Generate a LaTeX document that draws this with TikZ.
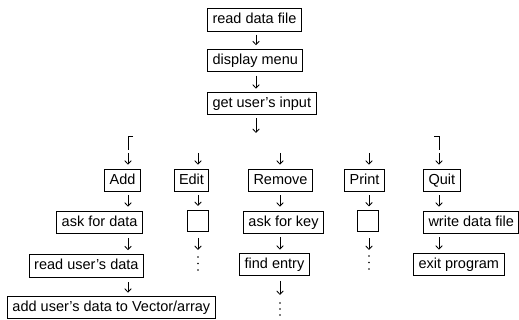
\documentclass[tikz,border=0pt]{standalone}
\usepackage{fontspec}
\setmainfont{Liberation Sans}
\usetikzlibrary{arrows.meta}
\begin{document}
\begin{tikzpicture}[x=1pt,y=-1pt,
  box/.style={draw, line width=1pt, inner xsep=5pt, inner ysep=4.5pt,
    text height=10.5pt, text depth=3pt, font=\fontsize{14.5}{17}\selectfont},
  emptybox/.style={draw, line width=1pt, minimum width=21pt, minimum height=21pt, inner sep=0pt},
  arr/.style={-{Straight Barb[length=3.5pt,width=6.5pt,line width=0.8pt]}, line width=0.8pt},
  brk/.style={line width=0.9pt},
  vdot/.style={fill, circle, inner sep=0pt, minimum size=1.9pt}]
\useasboundingbox (0,0) rectangle (519,320);

% column guides
\coordinate (c0) at (256,0);
\coordinate (cA) at (128,0);
\coordinate (cE) at (198,0);
\coordinate (cR) at (280,0);
\coordinate (cP) at (369,0);
\coordinate (cQ) at (439,0);

% top chain
\node[box, anchor=west] (readfile) at (207,20) {read data file};
\node[box, anchor=west] (menu) at (207,60.5) {display menu};
\node[box, anchor=west] (input) at (207,103.5) {get user's input};

% row A
\node[box, anchor=east] (add) at (141,180.5) {Add};
\node[box] (edit) at (191.5,180.5) {Edit};
\node[box] (remove) at (280.5,180.5) {Remove};
\node[box] (print) at (364.5,180.5) {Print};
\node[box, anchor=west] (quit) at (423,180.5) {Quit};

% row B
\node[box, anchor=east] (askdata) at (143,222.5) {ask for data};
\node[emptybox] (editbox) at (197.5,221) {};
\node[box] (askkey) at (283.5,222.5) {ask for key};
\node[emptybox] (printbox) at (368,221.5) {};
\node[box, anchor=west] (writefile) at (423,222.5) {write data file};

% row C
\node[box, anchor=east] (readdata) at (144,266) {read user's data};
\node[box] (find) at (274.5,264.5) {find entry};
\node[box, anchor=west] (exit) at (413,264.5) {exit program};

% row D
\node[box, anchor=west] (adddata) at (7,307.5) {add user's data to Vector/array};

% free ends
\coordinate (t3) at (256,133);
\coordinate (sA) at (128,153);
\coordinate (sE) at (198,153);
\coordinate (sR) at (280,153);
\coordinate (sP) at (369,153);
\coordinate (sQ) at (439,153);
\coordinate (eE) at (198,250);
\coordinate (eP) at (369,250);
\coordinate (eR) at (280,295);

% top arrows
\draw[arr, shorten <=3pt, shorten >=3.5pt] (readfile.south -| c0) -- (menu.north -| c0);
\draw[arr, shorten <=3.5pt, shorten >=3pt] (menu.south -| c0) -- (input.north -| c0);
\draw[arr, shorten <=3pt] (input.south -| c0) -- (t3);

% brackets
\draw[brk] (133,136) -- (128,136) -- (128,150);
\draw[brk] (434,136) -- (439,136) -- (439,150);

% arrows into row A
\draw[arr, shorten >=4pt] (sA) -- (add.north -| cA);
\draw[arr, shorten >=4pt] (sE) -- (edit.north -| cE);
\draw[arr, shorten >=4pt] (sR) -- (remove.north -| cR);
\draw[arr, shorten >=4pt] (sP) -- (print.north -| cP);
\draw[arr, shorten >=4pt] (sQ) -- (quit.north -| cQ);

% row A -> row B
\draw[arr, shorten <=3pt, shorten >=4pt] (add.south -| cA) -- (askdata.north -| cA);
\draw[arr, shorten <=3pt, shorten >=4pt] (edit.south -| cE) -- (editbox.north -| cE);
\draw[arr, shorten <=3pt, shorten >=4pt] (remove.south -| cR) -- (askkey.north -| cR);
\draw[arr, shorten <=3pt, shorten >=4pt] (print.south -| cP) -- (printbox.north -| cP);
\draw[arr, shorten <=3pt, shorten >=4pt] (quit.south -| cQ) -- (writefile.north -| cQ);

% row B -> row C
\draw[arr, shorten <=4pt, shorten >=4pt] (askdata.south -| cA) -- (readdata.north -| cA);
\draw[arr, shorten <=6pt] (editbox.south -| cE) -- (eE);
\draw[arr, shorten <=3pt, shorten >=3pt] (askkey.south -| cR) -- (find.north -| cR);
\draw[arr, shorten <=6pt] (printbox.south -| cP) -- (eP);
\draw[arr, shorten <=3pt, shorten >=3pt] (writefile.south -| cQ) -- (exit.north -| cQ);

% row C -> row D
\draw[arr, shorten <=4.5pt, shorten >=3pt] (readdata.south -| cA) -- (adddata.north -| cA);
\draw[arr, shorten <=4.5pt] (find.south -| cR) -- (eR);

% continuation dots
\foreach \yy in {257,263.5,270} \node[vdot] at (198,\yy) {};
\foreach \yy in {256,262.5,269} \node[vdot] at (369,\yy) {};
\foreach \yy in {303,309,315} \node[vdot] at (280,\yy) {};
\end{tikzpicture}
\end{document}
